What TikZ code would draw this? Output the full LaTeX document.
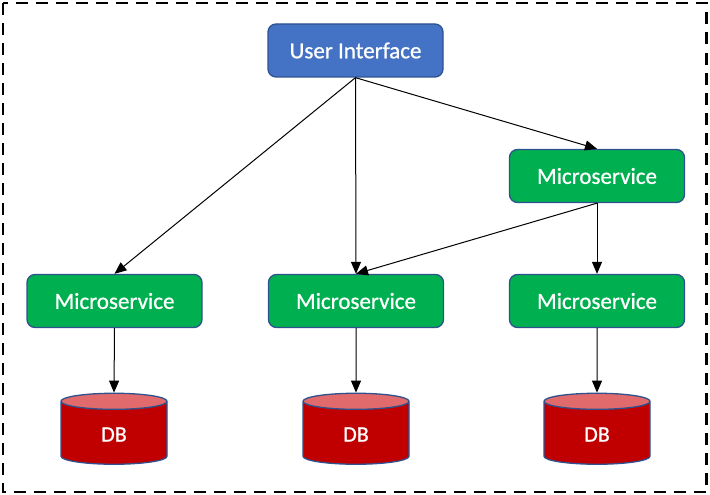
\documentclass[tikz,border=0pt]{standalone}
\usepackage{fontspec}
\setmainfont{Carlito}
\newfontface\boxfont{Carlito}[FakeBold=0.8]
\usetikzlibrary{shapes.geometric,arrows.meta}
\definecolor{uiblue}{HTML}{4472C4}
\definecolor{msgreen}{HTML}{00B050}
\definecolor{bordc}{HTML}{2F528F}
\definecolor{dbred}{HTML}{C00000}
\definecolor{dbtop}{HTML}{E06A6C}
\tikzset{
  box/.style={rectangle, rounded corners=8pt, draw=bordc, line width=1.3pt,
    minimum width=175pt, minimum height=53pt, text=white,
    font=\boxfont\fontsize{23}{27}\selectfont},
  uibox/.style={box, fill=uiblue},
  msbox/.style={box, fill=msgreen},
  dbstyle/.style={cylinder, shape border rotate=90, aspect=0.5,
    minimum width=106pt, minimum height=71pt, draw=bordc, line width=1.3pt,
    cylinder uses custom fill, cylinder body fill=dbred, cylinder end fill=dbtop,
    text=white, font=\boxfont\fontsize{22}{26}\selectfont},
  conn/.style={draw=black, line width=1pt, -{Triangle[length=12pt,width=10pt]}},
}
\begin{document}
\begin{tikzpicture}[x=1pt,y=-1pt]
\useasboundingbox (0,0) rectangle (710,495);
\draw[line width=2.4pt, dash pattern=on 12pt off 8pt] (3,3) rectangle (706.5,492);
\node[uibox] (ui) at (355.5,50.5) {User Interface};
\node[msbox] (ms2) at (597,176) {Microservice};
\node[msbox] (ms1) at (114.5,301) {Microservice};
\node[msbox] (msm) at (356,301) {Microservice};
\node[msbox] (ms3) at (597,301) {Microservice};
\node[dbstyle] (db1) at (114,434.5) {\raisebox{-5.5pt}{DB}};
\node[dbstyle] (dbm) at (356,434.5) {\raisebox{-5.5pt}{DB}};
\node[dbstyle] (db3) at (597,434.5) {\raisebox{-5.5pt}{DB}};
\draw[conn] (ui.south) -- (ms1.north);
\draw[conn] (ui.south) -- (msm.north);
\draw[conn] (ui.south) -- (ms2.north);
\draw[conn] (ms2.south) -- (msm.north);
\draw[conn] (ms2.south) -- (ms3.north);
\draw[conn] (ms1.south) -- (db1.north);
\draw[conn] (msm.south) -- (dbm.north);
\draw[conn] (ms3.south) -- (db3.north);
\end{tikzpicture}
\end{document}
